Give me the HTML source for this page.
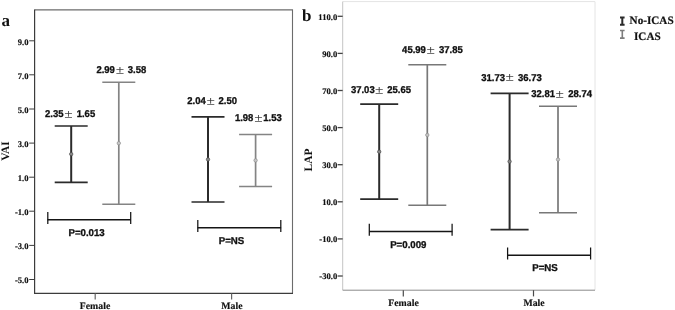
<!DOCTYPE html>
<html><head><meta charset="utf-8"><title>Figure</title><style>
html,body{margin:0;padding:0;background:#fff;}
svg{display:block;}
text{fill:#111;}
.tk{font:bold 8.6px "Liberation Serif",serif;stroke:#111;stroke-width:0.15px;}
.xl{font:bold 9.8px "Liberation Serif",serif;stroke:#111;stroke-width:0.15px;}
.at{font:bold 11.4px "Liberation Serif",serif;}
.pl{font:bold 17px "Liberation Serif",serif;}
.lg{font:bold 11.4px "Liberation Serif",serif;stroke:#111;stroke-width:0.2px;}
.lb{font:bold 9.5px "Liberation Sans",sans-serif;white-space:pre;stroke:#111;stroke-width:0.3px;}
.pm{font:normal 9.4px "Noto Sans CJK SC",sans-serif;fill:#222;stroke:#222;stroke-width:0.15px;}
</style></head><body>
<svg width="675" height="310" viewBox="0 0 675 310">
<rect width="675" height="310" fill="#fff"/>
<g fill="none">
<path d="M34.6 9.9 H292.5 V293.4" stroke="#6c6c6c" stroke-width="1.1"/>
<path d="M34.6 9.5 V293.4 H293" stroke="#3c3c3c" stroke-width="1.2"/>
<path d="M342.7 1.6 H595 V290.2" stroke="#e4e4e4" stroke-width="1"/>
<path d="M342.7 1.6 V290.2" stroke="#c4c4c4" stroke-width="1"/>
<path d="M342.7 290.2 H595" stroke="#8a8a8a" stroke-width="1"/>
</g>
<path d="M29.2 40.8 H34.6" stroke="#3c3c3c" stroke-width="1"/>
<g transform="translate(28.5 44.5) matrix(1 0 0.001 1 0 0)"><text class="tk" text-anchor="end">9.0</text></g>
<path d="M29.2 74.8 H34.6" stroke="#3c3c3c" stroke-width="1"/>
<g transform="translate(28.5 78.5) matrix(1 0 0.001 1 0 0)"><text class="tk" text-anchor="end">7.0</text></g>
<path d="M29.2 109.0 H34.6" stroke="#3c3c3c" stroke-width="1"/>
<g transform="translate(28.5 112.7) matrix(1 0 0.001 1 0 0)"><text class="tk" text-anchor="end">5.0</text></g>
<path d="M29.2 143.1 H34.6" stroke="#3c3c3c" stroke-width="1"/>
<g transform="translate(28.5 146.8) matrix(1 0 0.001 1 0 0)"><text class="tk" text-anchor="end">3.0</text></g>
<path d="M29.2 177.2 H34.6" stroke="#3c3c3c" stroke-width="1"/>
<g transform="translate(28.5 180.8) matrix(1 0 0.001 1 0 0)"><text class="tk" text-anchor="end">1.0</text></g>
<path d="M29.2 211.2 H34.6" stroke="#3c3c3c" stroke-width="1"/>
<g transform="translate(28.5 214.9) matrix(1 0 0.001 1 0 0)"><text class="tk" text-anchor="end">-1.0</text></g>
<path d="M29.2 245.4 H34.6" stroke="#3c3c3c" stroke-width="1"/>
<g transform="translate(28.5 249.1) matrix(1 0 0.001 1 0 0)"><text class="tk" text-anchor="end">-3.0</text></g>
<path d="M29.2 279.5 H34.6" stroke="#3c3c3c" stroke-width="1"/>
<g transform="translate(28.5 283.2) matrix(1 0 0.001 1 0 0)"><text class="tk" text-anchor="end">-5.0</text></g>
<path d="M337.6 16.3 H342.7" stroke="#444" stroke-width="1.3"/>
<g transform="translate(337.2 19.6) matrix(1 0 0.001 1 0 0)"><text class="tk" text-anchor="end">110.0</text></g>
<path d="M337.6 53.4 H342.7" stroke="#444" stroke-width="1.3"/>
<g transform="translate(337.2 56.7) matrix(1 0 0.001 1 0 0)"><text class="tk" text-anchor="end">90.0</text></g>
<path d="M337.6 90.5 H342.7" stroke="#444" stroke-width="1.3"/>
<g transform="translate(337.2 93.8) matrix(1 0 0.001 1 0 0)"><text class="tk" text-anchor="end">70.0</text></g>
<path d="M337.6 127.6 H342.7" stroke="#444" stroke-width="1.3"/>
<g transform="translate(337.2 130.9) matrix(1 0 0.001 1 0 0)"><text class="tk" text-anchor="end">50.0</text></g>
<path d="M337.6 164.7 H342.7" stroke="#444" stroke-width="1.3"/>
<g transform="translate(337.2 168.0) matrix(1 0 0.001 1 0 0)"><text class="tk" text-anchor="end">30.0</text></g>
<path d="M337.6 201.8 H342.7" stroke="#444" stroke-width="1.3"/>
<g transform="translate(337.2 205.1) matrix(1 0 0.001 1 0 0)"><text class="tk" text-anchor="end">10.0</text></g>
<path d="M337.6 238.9 H342.7" stroke="#444" stroke-width="1.3"/>
<g transform="translate(337.2 242.2) matrix(1 0 0.001 1 0 0)"><text class="tk" text-anchor="end">-10.0</text></g>
<path d="M337.6 276.0 H342.7" stroke="#444" stroke-width="1.3"/>
<g transform="translate(337.2 279.3) matrix(1 0 0.001 1 0 0)"><text class="tk" text-anchor="end">-30.0</text></g>
<path d="M95.2 293.4 V299.4" stroke="#666" stroke-width="1.2"/>
<path d="M231.6 293.4 V299.4" stroke="#666" stroke-width="1.2"/>
<path d="M403.3 290.2 V296.4" stroke="#4a4a4a" stroke-width="1.2"/>
<path d="M533.5 290.2 V296.4" stroke="#4a4a4a" stroke-width="1.2"/>
<g transform="translate(95 308.6) matrix(1 0 0.001 1 0 0)"><text class="xl" text-anchor="middle">Female</text></g>
<g transform="translate(231.9 308.6) matrix(1 0 0.001 1 0 0)"><text class="xl" text-anchor="middle">Male</text></g>
<g transform="translate(403.5 305.6) matrix(1 0 0.001 1 0 0)"><text class="xl" text-anchor="middle">Female</text></g>
<g transform="translate(534 305.6) matrix(1 0 0.001 1 0 0)"><text class="xl" text-anchor="middle">Male</text></g>
<text class="at" transform="translate(9.3 151) rotate(-90) matrix(1 0 0.001 1 0 0)" text-anchor="middle">VAI</text>
<text class="at" transform="translate(311.8 160) rotate(-90) matrix(1 0 0.001 1 0 0)" text-anchor="middle">LAP</text>
<g transform="translate(1.5 25.5) matrix(1 0 0.001 1 0 0)"><text class="pl">a</text></g>
<g transform="translate(302 21.3) matrix(1 0 0.001 1 0 0)"><text class="pl">b</text></g>
<path d="M54.7 126.0 H87.7 M54.7 182.3 H87.7" stroke="#2b2b2b" stroke-width="1.7" fill="none"/>
<path d="M71.2 126.0 V182.3" stroke="#2b2b2b" stroke-width="2.0" fill="none"/>
<circle cx="71.2" cy="154.1" r="1.7" fill="#8a8a8a" stroke="#4a4a4a" stroke-width="0.7"/>
<path d="M102.3 82.2 H135.3 M102.3 204.3 H135.3" stroke="#848484" stroke-width="1.5" fill="none"/>
<path d="M118.8 82.2 V204.3" stroke="#848484" stroke-width="1.7" fill="none"/>
<circle cx="118.8" cy="143.2" r="1.7" fill="#c8c8c8" stroke="#8c8c8c" stroke-width="0.7"/>
<path d="M191.5 116.8 H224.5 M191.5 202.0 H224.5" stroke="#2b2b2b" stroke-width="1.7" fill="none"/>
<path d="M208.0 116.8 V202.0" stroke="#2b2b2b" stroke-width="2.0" fill="none"/>
<circle cx="208.0" cy="159.4" r="1.7" fill="#8a8a8a" stroke="#4a4a4a" stroke-width="0.7"/>
<path d="M239.1 134.4 H272.1 M239.1 186.5 H272.1" stroke="#848484" stroke-width="1.5" fill="none"/>
<path d="M255.6 134.4 V186.5" stroke="#848484" stroke-width="1.7" fill="none"/>
<circle cx="255.6" cy="160.4" r="1.7" fill="#c8c8c8" stroke="#8c8c8c" stroke-width="0.7"/>
<path d="M360.2 104.1 H398.2 M360.2 199.2 H398.2" stroke="#2b2b2b" stroke-width="1.7" fill="none"/>
<path d="M379.2 104.1 V199.2" stroke="#2b2b2b" stroke-width="2.0" fill="none"/>
<circle cx="379.2" cy="151.7" r="1.7" fill="#8a8a8a" stroke="#4a4a4a" stroke-width="0.7"/>
<path d="M408.3 64.8 H446.3 M408.3 205.3 H446.3" stroke="#787878" stroke-width="1.5" fill="none"/>
<path d="M427.3 64.8 V205.3" stroke="#787878" stroke-width="1.7" fill="none"/>
<circle cx="427.3" cy="135.0" r="1.7" fill="#c4c4c4" stroke="#8c8c8c" stroke-width="0.7"/>
<path d="M490.6 93.4 H528.6 M490.6 229.6 H528.6" stroke="#2b2b2b" stroke-width="1.7" fill="none"/>
<path d="M509.6 93.4 V229.6" stroke="#2b2b2b" stroke-width="2.0" fill="none"/>
<circle cx="509.6" cy="161.5" r="1.7" fill="#8a8a8a" stroke="#4a4a4a" stroke-width="0.7"/>
<path d="M539.0 106.2 H577.0 M539.0 212.8 H577.0" stroke="#787878" stroke-width="1.5" fill="none"/>
<path d="M558.0 106.2 V212.8" stroke="#787878" stroke-width="1.7" fill="none"/>
<circle cx="558.0" cy="159.5" r="1.7" fill="#c4c4c4" stroke="#8c8c8c" stroke-width="0.7"/>
<path d="M47.8 212.1 V224.0 M130.7 212.1 V224.0" stroke="#151515" stroke-width="1.25" fill="none"/>
<path d="M47.5 219.8 H131.0" stroke="#151515" stroke-width="1.4" fill="none"/>
<path d="M197.8 220.1 V232.0 M280.8 220.1 V232.0" stroke="#151515" stroke-width="1.25" fill="none"/>
<path d="M197.5 227.8 H281.1" stroke="#151515" stroke-width="1.4" fill="none"/>
<path d="M369.3 223.8 V235.7 M452.1 223.8 V235.7" stroke="#151515" stroke-width="1.25" fill="none"/>
<path d="M369.0 231.5 H452.4" stroke="#151515" stroke-width="1.4" fill="none"/>
<path d="M507.6 247.6 V259.4 M590.6 247.6 V259.4" stroke="#151515" stroke-width="1.25" fill="none"/>
<path d="M507.3 255.25 H590.9" stroke="#151515" stroke-width="1.4" fill="none"/>
<g transform="translate(0 117.2) matrix(1 0 0.001 1.04 0 0)"><text class="lb" x="45.0" y="0">2.35</text><text class="lb" x="76.7" y="0">1.65</text></g>
<g transform="translate(0 117.9) matrix(1 0 0.001 0.92 0 0)"><text class="pm" x="63.7" y="0">±</text></g>
<g transform="translate(0 72.9) matrix(1 0 0.001 1.04 0 0)"><text class="lb" x="96.4" y="0">2.99</text><text class="lb" x="127.8" y="0">3.58</text></g>
<g transform="translate(0 73.6) matrix(1 0 0.001 0.92 0 0)"><text class="pm" x="115.2" y="0">±</text></g>
<g transform="translate(0 104.0) matrix(1 0 0.001 1.04 0 0)"><text class="lb" x="187.3" y="0">2.04</text><text class="lb" x="218.6" y="0">2.50</text></g>
<g transform="translate(0 104.7) matrix(1 0 0.001 0.92 0 0)"><text class="pm" x="205.9" y="0">±</text></g>
<g transform="translate(0 121.0) matrix(1 0 0.001 1.04 0 0)"><text class="lb" x="234.9" y="0">1.98</text><text class="lb" x="263.3" y="0">1.53</text></g>
<g transform="translate(0 121.7) matrix(1 0 0.001 0.92 0 0)"><text class="pm" x="253.7" y="0">±</text></g>
<g transform="translate(0 93.2) matrix(1 0 0.001 1.04 0 0)"><text class="lb" x="350.9" y="0">37.03</text><text class="lb" x="387.3" y="0">25.65</text></g>
<g transform="translate(0 93.9) matrix(1 0 0.001 0.92 0 0)"><text class="pm" x="374.5" y="0">±</text></g>
<g transform="translate(0 52.9) matrix(1 0 0.001 1.04 0 0)"><text class="lb" x="402.1" y="0">45.99</text><text class="lb" x="439.0" y="0">37.85</text></g>
<g transform="translate(0 53.6) matrix(1 0 0.001 0.92 0 0)"><text class="pm" x="425.9" y="0">±</text></g>
<g transform="translate(0 80.6) matrix(1 0 0.001 1.04 0 0)"><text class="lb" x="481.3" y="0">31.73</text><text class="lb" x="518.0" y="0">36.73</text></g>
<g transform="translate(0 81.3) matrix(1 0 0.001 0.92 0 0)"><text class="pm" x="505.1" y="0">±</text></g>
<g transform="translate(0 97.2) matrix(1 0 0.001 1.04 0 0)"><text class="lb" x="531.3" y="0">32.81</text><text class="lb" x="568.2" y="0">28.74</text></g>
<g transform="translate(0 97.9) matrix(1 0 0.001 0.92 0 0)"><text class="pm" x="555.1" y="0">±</text></g>
<g transform="translate(86.6 235.6) matrix(1.02 0 0.001 1.04 0 0)"><text class="lb" x="0" y="0" text-anchor="middle">P=0.013</text></g>
<g transform="translate(231.5 243.7) matrix(1.02 0 0.001 1.04 0 0)"><text class="lb" x="0" y="0" text-anchor="middle">P=NS</text></g>
<g transform="translate(408.3 247.7) matrix(1.02 0 0.001 1.04 0 0)"><text class="lb" x="0" y="0" text-anchor="middle">P=0.009</text></g>
<g transform="translate(545 271.4) matrix(1.02 0 0.001 1.04 0 0)"><text class="lb" x="0" y="0" text-anchor="middle">P=NS</text></g>
<path d="M620.0 17.6 H624.5999999999999 M620.0 24.7 H624.5999999999999 M622.3 17.6 V24.7" stroke="#2b2b2b" stroke-width="2.0" fill="none"/>
<path d="M620.0 30.5 H624.5999999999999 M620.0 38.1 H624.5999999999999 M622.3 30.5 V38.1" stroke="#7c7c7c" stroke-width="1.6" fill="none"/>
<g transform="translate(629.6 23.7) matrix(0.98 0 0.001 1 0 0)"><text class="lg">No-ICAS</text></g>
<g transform="translate(634 39.6) matrix(0.98 0 0.001 1 0 0)"><text class="lg">ICAS</text></g>
</svg>
</body></html>
